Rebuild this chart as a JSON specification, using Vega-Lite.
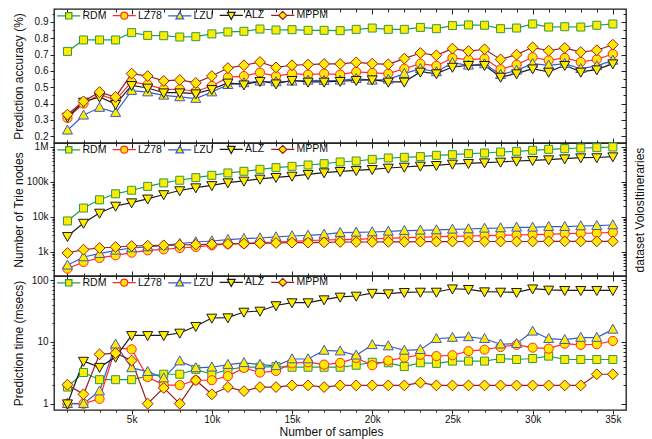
{
"$schema": "https://vega.github.io/schema/vega-lite/v6.json",
"padding": {"left": 11, "top": 7, "right": 8, "bottom": 2},
"spacing": 0,
"bounds": "flush",
"config": {
 "font": "Liberation Sans",
 "view": {"stroke": "#1a1a1a", "strokeWidth": 1.3},
 "axis": {"grid": false, "domain": false, "labelFont": "Liberation Sans", "labelFontSize": 10, "labelColor": "#111", "titleFont": "Liberation Sans", "titleFontSize": 12, "titleFontWeight": "normal", "titleColor": "#111", "tickColor": "#222", "tickWidth": 1},
 "concat": {"spacing": 0}
},
"resolve": {"scale": {"stroke": "independent", "shape": "independent"}, "legend": {"stroke": "independent"}},
"data": {"values": [
{"n":1000,"s":"RDM","a":0.72,"v":7700,"t":1.86},
{"n":2000,"s":"RDM","a":0.79,"v":18000,"t":3.2},
{"n":3000,"s":"RDM","a":0.79,"v":31000,"t":2.45},
{"n":4000,"s":"RDM","a":0.79,"v":46000,"t":2.45},
{"n":5000,"s":"RDM","a":0.835,"v":58000,"t":2.45},
{"n":6000,"s":"RDM","a":0.818,"v":75000,"t":2.8},
{"n":7000,"s":"RDM","a":0.816,"v":94000,"t":3.0},
{"n":8000,"s":"RDM","a":0.808,"v":112000,"t":3.0},
{"n":9000,"s":"RDM","a":0.81,"v":133000,"t":3.6},
{"n":10000,"s":"RDM","a":0.827,"v":155000,"t":3.0},
{"n":11000,"s":"RDM","a":0.839,"v":181000,"t":3.56},
{"n":12000,"s":"RDM","a":0.843,"v":202000,"t":3.9},
{"n":13000,"s":"RDM","a":0.857,"v":230000,"t":3.9},
{"n":14000,"s":"RDM","a":0.851,"v":257000,"t":4.0},
{"n":15000,"s":"RDM","a":0.853,"v":280000,"t":3.9},
{"n":16000,"s":"RDM","a":0.849,"v":306000,"t":3.9},
{"n":17000,"s":"RDM","a":0.849,"v":334000,"t":3.9},
{"n":18000,"s":"RDM","a":0.847,"v":373000,"t":3.9},
{"n":19000,"s":"RDM","a":0.855,"v":398000,"t":4.2},
{"n":20000,"s":"RDM","a":0.863,"v":444000,"t":4.7},
{"n":21000,"s":"RDM","a":0.855,"v":485000,"t":4.6},
{"n":22000,"s":"RDM","a":0.855,"v":507000,"t":4.0},
{"n":23000,"s":"RDM","a":0.867,"v":530000,"t":4.6},
{"n":24000,"s":"RDM","a":0.859,"v":578000,"t":4.5},
{"n":25000,"s":"RDM","a":0.878,"v":604000,"t":4.9},
{"n":26000,"s":"RDM","a":0.882,"v":646000,"t":4.9},
{"n":27000,"s":"RDM","a":0.88,"v":674000,"t":4.9},
{"n":28000,"s":"RDM","a":0.859,"v":719000,"t":5.4},
{"n":29000,"s":"RDM","a":0.863,"v":751000,"t":5.2},
{"n":30000,"s":"RDM","a":0.888,"v":803000,"t":5.4},
{"n":31000,"s":"RDM","a":0.869,"v":858000,"t":5.9},
{"n":32000,"s":"RDM","a":0.871,"v":896000,"t":5.2},
{"n":33000,"s":"RDM","a":0.869,"v":936000,"t":5.2},
{"n":34000,"s":"RDM","a":0.88,"v":957000,"t":5.2},
{"n":35000,"s":"RDM","a":0.888,"v":1000000,"t":5.2},
{"n":1000,"s":"LZ78","a":0.312,"v":334,"t":1.0},
{"n":2000,"s":"LZ78","a":0.4,"v":518,"t":1.0},
{"n":3000,"s":"LZ78","a":0.457,"v":675,"t":1.2},
{"n":4000,"s":"LZ78","a":0.422,"v":804,"t":8.0},
{"n":5000,"s":"LZ78","a":0.533,"v":957,"t":7.6},
{"n":6000,"s":"LZ78","a":0.516,"v":1117,"t":2.7},
{"n":7000,"s":"LZ78","a":0.488,"v":1191,"t":2.0},
{"n":8000,"s":"LZ78","a":0.488,"v":1300,"t":2.0},
{"n":9000,"s":"LZ78","a":0.476,"v":1390,"t":2.4},
{"n":10000,"s":"LZ78","a":0.508,"v":1549,"t":2.4},
{"n":11000,"s":"LZ78","a":0.561,"v":1694,"t":2.8},
{"n":12000,"s":"LZ78","a":0.569,"v":1770,"t":3.8},
{"n":13000,"s":"LZ78","a":0.59,"v":1849,"t":3.2},
{"n":14000,"s":"LZ78","a":0.569,"v":1932,"t":3.4},
{"n":15000,"s":"LZ78","a":0.584,"v":2018,"t":4.5},
{"n":16000,"s":"LZ78","a":0.578,"v":2109,"t":4.7},
{"n":17000,"s":"LZ78","a":0.584,"v":2203,"t":4.3},
{"n":18000,"s":"LZ78","a":0.578,"v":2249,"t":4.6},
{"n":19000,"s":"LZ78","a":0.594,"v":2301,"t":5.5},
{"n":20000,"s":"LZ78","a":0.588,"v":2404,"t":4.2},
{"n":21000,"s":"LZ78","a":0.584,"v":2455,"t":5.0},
{"n":22000,"s":"LZ78","a":0.614,"v":2570,"t":5.6},
{"n":23000,"s":"LZ78","a":0.645,"v":2624,"t":6.2},
{"n":24000,"s":"LZ78","a":0.631,"v":2742,"t":5.9},
{"n":25000,"s":"LZ78","a":0.68,"v":2805,"t":6.1},
{"n":26000,"s":"LZ78","a":0.669,"v":2864,"t":7.1},
{"n":27000,"s":"LZ78","a":0.676,"v":2931,"t":7.5},
{"n":28000,"s":"LZ78","a":0.61,"v":2992,"t":8.3},
{"n":29000,"s":"LZ78","a":0.639,"v":3062,"t":9.0},
{"n":30000,"s":"LZ78","a":0.684,"v":3126,"t":8.1},
{"n":31000,"s":"LZ78","a":0.665,"v":3199,"t":7.8},
{"n":32000,"s":"LZ78","a":0.68,"v":3342,"t":9.4},
{"n":33000,"s":"LZ78","a":0.655,"v":3412,"t":9.0},
{"n":34000,"s":"LZ78","a":0.671,"v":3491,"t":9.2},
{"n":35000,"s":"LZ78","a":0.704,"v":3648,"t":10.4},
{"n":1000,"s":"LZU","a":0.237,"v":416,"t":1.0},
{"n":2000,"s":"LZU","a":0.329,"v":720,"t":1.0},
{"n":3000,"s":"LZU","a":0.376,"v":895,"t":1.6},
{"n":4000,"s":"LZU","a":0.345,"v":1117,"t":9.2},
{"n":5000,"s":"LZU","a":0.48,"v":1300,"t":3.8},
{"n":6000,"s":"LZU","a":0.471,"v":1390,"t":3.3},
{"n":7000,"s":"LZU","a":0.451,"v":1549,"t":2.6},
{"n":8000,"s":"LZU","a":0.441,"v":1730,"t":4.9},
{"n":9000,"s":"LZU","a":0.431,"v":1932,"t":3.8},
{"n":10000,"s":"LZU","a":0.471,"v":2061,"t":3.9},
{"n":11000,"s":"LZU","a":0.516,"v":2249,"t":4.3},
{"n":12000,"s":"LZU","a":0.527,"v":2404,"t":4.6},
{"n":13000,"s":"LZU","a":0.537,"v":2512,"t":4.3},
{"n":14000,"s":"LZU","a":0.533,"v":2685,"t":4.1},
{"n":15000,"s":"LZU","a":0.537,"v":2864,"t":5.3},
{"n":16000,"s":"LZU","a":0.543,"v":2992,"t":5.3},
{"n":17000,"s":"LZU","a":0.541,"v":3199,"t":7.3},
{"n":18000,"s":"LZU","a":0.543,"v":3565,"t":7.1},
{"n":19000,"s":"LZU","a":0.553,"v":3648,"t":6.1},
{"n":20000,"s":"LZU","a":0.543,"v":3724,"t":9.0},
{"n":21000,"s":"LZU","a":0.549,"v":3890,"t":8.6},
{"n":22000,"s":"LZU","a":0.584,"v":4074,"t":7.3},
{"n":23000,"s":"LZU","a":0.614,"v":4159,"t":7.5},
{"n":24000,"s":"LZU","a":0.594,"v":4256,"t":11.3},
{"n":25000,"s":"LZU","a":0.651,"v":4446,"t":11.8},
{"n":26000,"s":"LZU","a":0.635,"v":4539,"t":12.1},
{"n":27000,"s":"LZU","a":0.643,"v":4742,"t":11.3},
{"n":28000,"s":"LZU","a":0.578,"v":4853,"t":9.2},
{"n":29000,"s":"LZU","a":0.604,"v":5070,"t":9.4},
{"n":30000,"s":"LZU","a":0.645,"v":5070,"t":14.9},
{"n":31000,"s":"LZU","a":0.635,"v":5297,"t":11.3},
{"n":32000,"s":"LZU","a":0.645,"v":5297,"t":10.9},
{"n":33000,"s":"LZU","a":0.614,"v":5534,"t":11.8},
{"n":34000,"s":"LZU","a":0.631,"v":5649,"t":11.8},
{"n":35000,"s":"LZU","a":0.665,"v":5902,"t":16.0},
{"n":1000,"s":"ALZ","a":0.318,"v":2800,"t":1.0},
{"n":2000,"s":"ALZ","a":0.41,"v":6700,"t":4.9},
{"n":3000,"s":"ALZ","a":0.441,"v":13000,"t":3.9},
{"n":4000,"s":"ALZ","a":0.396,"v":20600,"t":5.7},
{"n":5000,"s":"ALZ","a":0.512,"v":25700,"t":12.8},
{"n":6000,"s":"ALZ","a":0.496,"v":33000,"t":12.8},
{"n":7000,"s":"ALZ","a":0.467,"v":44000,"t":12.8},
{"n":8000,"s":"ALZ","a":0.467,"v":57000,"t":14.0},
{"n":9000,"s":"ALZ","a":0.461,"v":69000,"t":18.0},
{"n":10000,"s":"ALZ","a":0.488,"v":80000,"t":24.5},
{"n":11000,"s":"ALZ","a":0.527,"v":96000,"t":24.8},
{"n":12000,"s":"ALZ","a":0.516,"v":107000,"t":30.6},
{"n":13000,"s":"ALZ","a":0.537,"v":122000,"t":31.8},
{"n":14000,"s":"ALZ","a":0.522,"v":136000,"t":39.0},
{"n":15000,"s":"ALZ","a":0.543,"v":148000,"t":43.5},
{"n":16000,"s":"ALZ","a":0.533,"v":166000,"t":43.5},
{"n":17000,"s":"ALZ","a":0.533,"v":185000,"t":48.6},
{"n":18000,"s":"ALZ","a":0.537,"v":202000,"t":53.7},
{"n":19000,"s":"ALZ","a":0.543,"v":215000,"t":55.7},
{"n":20000,"s":"ALZ","a":0.547,"v":230000,"t":62.0},
{"n":21000,"s":"ALZ","a":0.533,"v":251000,"t":60.8},
{"n":22000,"s":"ALZ","a":0.533,"v":268000,"t":63.9},
{"n":23000,"s":"ALZ","a":0.594,"v":287000,"t":64.6},
{"n":24000,"s":"ALZ","a":0.584,"v":300000,"t":64.6},
{"n":25000,"s":"ALZ","a":0.624,"v":327000,"t":73.0},
{"n":26000,"s":"ALZ","a":0.635,"v":341000,"t":71.5},
{"n":27000,"s":"ALZ","a":0.635,"v":357000,"t":65.5},
{"n":28000,"s":"ALZ","a":0.563,"v":373000,"t":64.6},
{"n":29000,"s":"ALZ","a":0.584,"v":398000,"t":63.9},
{"n":30000,"s":"ALZ","a":0.614,"v":416000,"t":73.0},
{"n":31000,"s":"ALZ","a":0.594,"v":435000,"t":69.7},
{"n":32000,"s":"ALZ","a":0.635,"v":464000,"t":68.8},
{"n":33000,"s":"ALZ","a":0.594,"v":496000,"t":68.8},
{"n":34000,"s":"ALZ","a":0.608,"v":500000,"t":68.8},
{"n":35000,"s":"ALZ","a":0.645,"v":530000,"t":68.8},
{"n":1000,"s":"MPPM","a":0.333,"v":935,"t":2.03},
{"n":2000,"s":"MPPM","a":0.414,"v":1167,"t":1.42},
{"n":3000,"s":"MPPM","a":0.471,"v":1300,"t":6.3},
{"n":4000,"s":"MPPM","a":0.441,"v":1390,"t":6.6},
{"n":5000,"s":"MPPM","a":0.584,"v":1483,"t":5.0},
{"n":6000,"s":"MPPM","a":0.569,"v":1517,"t":1.0},
{"n":7000,"s":"MPPM","a":0.539,"v":1549,"t":1.8},
{"n":8000,"s":"MPPM","a":0.545,"v":1585,"t":1.0},
{"n":9000,"s":"MPPM","a":0.527,"v":1622,"t":2.4},
{"n":10000,"s":"MPPM","a":0.569,"v":1656,"t":1.42},
{"n":11000,"s":"MPPM","a":0.618,"v":1694,"t":1.86},
{"n":12000,"s":"MPPM","a":0.635,"v":1730,"t":1.6},
{"n":13000,"s":"MPPM","a":0.655,"v":1770,"t":1.86},
{"n":14000,"s":"MPPM","a":0.622,"v":1807,"t":1.86},
{"n":15000,"s":"MPPM","a":0.635,"v":1849,"t":1.98},
{"n":16000,"s":"MPPM","a":0.639,"v":1849,"t":1.98},
{"n":17000,"s":"MPPM","a":0.643,"v":1888,"t":1.86},
{"n":18000,"s":"MPPM","a":0.643,"v":1932,"t":1.98},
{"n":19000,"s":"MPPM","a":0.653,"v":1932,"t":1.98},
{"n":20000,"s":"MPPM","a":0.645,"v":1932,"t":1.98},
{"n":21000,"s":"MPPM","a":0.641,"v":1950,"t":1.98},
{"n":22000,"s":"MPPM","a":0.676,"v":1950,"t":1.98},
{"n":23000,"s":"MPPM","a":0.71,"v":1972,"t":2.19},
{"n":24000,"s":"MPPM","a":0.696,"v":1972,"t":1.98},
{"n":25000,"s":"MPPM","a":0.737,"v":1972,"t":1.98},
{"n":26000,"s":"MPPM","a":0.722,"v":1995,"t":1.98},
{"n":27000,"s":"MPPM","a":0.733,"v":1995,"t":1.98},
{"n":28000,"s":"MPPM","a":0.671,"v":1995,"t":1.98},
{"n":29000,"s":"MPPM","a":0.7,"v":1995,"t":1.98},
{"n":30000,"s":"MPPM","a":0.745,"v":1995,"t":1.98},
{"n":31000,"s":"MPPM","a":0.724,"v":2018,"t":1.98},
{"n":32000,"s":"MPPM","a":0.741,"v":2018,"t":1.98},
{"n":33000,"s":"MPPM","a":0.716,"v":2018,"t":1.98},
{"n":34000,"s":"MPPM","a":0.727,"v":2018,"t":3.0},
{"n":35000,"s":"MPPM","a":0.761,"v":2018,"t":3.0}
]},
"vconcat": [
{
 "width": 572, "height": 134,
 "resolve": {"axis": {"x": "independent", "y": "independent"}},
 "layer": [
  {"mark": {"type": "line", "strokeWidth": 1.2},
   "encoding": {
    "x": {"field": "n", "type": "quantitative", "scale": {"domain": [160, 35820], "nice": false, "zero": false},
          "axis": {"orient": "bottom", "values": [5000,10000,15000,20000,25000,30000,35000], "tickSize": -5, "labels": false, "title": null}},
    "y": {"field": "a", "type": "quantitative", "scale": {"domain": [0.159, 0.9796], "nice": false, "zero": false},
          "axis": {"orient": "left", "values": [0.2,0.3,0.4,0.5,0.6,0.7,0.8,0.9], "format": ".1f", "tickSize": 4, "labelPadding": 2, "title": "Prediction accuracy (%)", "titleX": -36, "titleBaseline": "middle"}},
    "stroke": {"field": "s", "type": "nominal", "scale": {"domain": ["RDM","LZ78","LZU","ALZ","MPPM"], "range": ["#2b9a48","#ff2b2b","#3a5cc8","#1a1a1a","#9a1e1e"]},
     "legend": {"orient": "none", "legendX": 5.5, "legendY": 1, "direction": "horizontal", "title": null, "padding": 0, "symbolSize": 49, "symbolStrokeWidth": 1.2, "symbolOffset": 4, "labelOffset": 8.5, "columnPadding": 3.5, "labelFontSize": 10.5, "labelColor": "#111", "labelFont": "Liberation Sans",
      "encode": {"symbols": {"update": {"shape": {"signal": "datum.value === 'RDM' ? 'M-3.3,0H-0.9M0.9,0H3.3M-0.9,-0.9H0.9V0.9H-0.9Z' : datum.value === 'LZ78' ? 'M-3.3,0H-1M1,0H3.3M-1,0A1,1,0,1,1,1,0A1,1,0,1,1,-1,0Z' : datum.value === 'LZU' ? 'M-3.3,0H-0.63M0.63,0H3.3M0,-1.15L1.1,0.85H-1.1Z' : datum.value === 'ALZ' ? 'M-3.3,0H-0.63M0.63,0H3.3M0,1.15L1.1,-0.85H-1.1Z' : 'M-3.3,0H-1.15M1.15,0H3.3M0,-1.15L1.15,0L0,1.15L-1.15,0Z'"}, "fill": {"value": "#ffea00"}, "fillOpacity": {"value": 1}}}}}}
   }},
  {"mark": {"type": "point", "filled": true, "fill": "#ffea00", "size": 64, "strokeWidth": 1, "opacity": 1},
   "encoding": {
    "x": {"field": "n", "type": "quantitative", "axis": {"orient": "top", "values": [5000,10000,15000,20000,25000,30000,35000], "tickSize": -5, "labels": false, "title": null}},
    "y": {"field": "a", "type": "quantitative", "axis": {"orient": "right", "values": [0.2,0.3,0.4,0.5,0.6,0.7,0.8,0.9], "tickSize": -5, "labels": false, "title": null}},
    "stroke": {"field": "s", "type": "nominal", "legend": null},
    "shape": {"field": "s", "type": "nominal", "scale": {"domain": ["MPPM","ALZ","LZU","LZ78","RDM"], "range": ["M0,-1.35L1.35,0L0,1.35L-1.35,0Z","M0,1.3L1.25,-0.95H-1.25Z","M0,-1.3L1.25,0.95H-1.25Z","M-1.15,0A1.15,1.15,0,1,1,1.15,0A1.15,1.15,0,1,1,-1.15,0Z","M-1,-1H1V1H-1Z"]}, "legend": null}
   }},
  {"mark": {"type": "point", "opacity": 0},
   "encoding": {
    "x": {"field": "n", "type": "quantitative", "axis": {"orient": "bottom", "values": [1000,2000,3000,4000,6000,7000,8000,9000,11000,12000,13000,14000,16000,17000,18000,19000,21000,22000,23000,24000,26000,27000,28000,29000,31000,32000,33000,34000], "tickSize": -3, "labels": false, "title": null}},
    "y": {"field": "a", "type": "quantitative", "axis": {"orient": "left", "values": [0.25,0.35,0.45,0.55,0.65,0.75,0.85,0.95], "tickSize": 2, "labels": false, "title": null}}
   }},
  {"mark": {"type": "point", "opacity": 0},
   "encoding": {
    "x": {"field": "n", "type": "quantitative", "axis": {"orient": "top", "values": [1000,2000,3000,4000,6000,7000,8000,9000,11000,12000,13000,14000,16000,17000,18000,19000,21000,22000,23000,24000,26000,27000,28000,29000,31000,32000,33000,34000], "tickSize": -3, "labels": false, "title": null}},
    "y": {"field": "a", "type": "quantitative", "axis": {"orient": "right", "values": [0.25,0.35,0.45,0.55,0.65,0.75,0.85,0.95], "tickSize": -3, "labels": false, "title": null}}
   }}
 ]
},
{
 "width": 572, "height": 133,
 "resolve": {"axis": {"x": "independent", "y": "independent"}},
 "layer": [
  {"mark": {"type": "line", "strokeWidth": 1.2},
   "encoding": {
    "x": {"field": "n", "type": "quantitative", "scale": {"domain": [160, 35820], "nice": false, "zero": false},
          "axis": {"orient": "bottom", "values": [5000,10000,15000,20000,25000,30000,35000], "tickSize": -5, "labels": false, "title": null}},
    "y": {"field": "v", "type": "quantitative", "scale": {"type": "log", "domain": [206, 1300000], "nice": false},
          "axis": {"orient": "left", "values": [1000,10000,100000,1000000], "labelExpr": "datum.value >= 1000000 ? '1M' : (datum.value / 1000) + 'k'", "tickSize": 4, "labelPadding": 2, "title": "Number of Trie nodes", "titleX": -36, "titleBaseline": "middle"}},
    "stroke": {"field": "s", "type": "nominal", "scale": {"domain": ["RDM","LZ78","LZU","ALZ","MPPM"], "range": ["#2b9a48","#ff2b2b","#3a5cc8","#1a1a1a","#9a1e1e"]},
     "legend": {"orient": "none", "legendX": 5.5, "legendY": 1, "direction": "horizontal", "title": null, "padding": 0, "symbolSize": 49, "symbolStrokeWidth": 1.2, "symbolOffset": 4, "labelOffset": 8.5, "columnPadding": 3.5, "labelFontSize": 10.5, "labelColor": "#111", "labelFont": "Liberation Sans",
      "encode": {"symbols": {"update": {"shape": {"signal": "datum.value === 'RDM' ? 'M-3.3,0H-0.9M0.9,0H3.3M-0.9,-0.9H0.9V0.9H-0.9Z' : datum.value === 'LZ78' ? 'M-3.3,0H-1M1,0H3.3M-1,0A1,1,0,1,1,1,0A1,1,0,1,1,-1,0Z' : datum.value === 'LZU' ? 'M-3.3,0H-0.63M0.63,0H3.3M0,-1.15L1.1,0.85H-1.1Z' : datum.value === 'ALZ' ? 'M-3.3,0H-0.63M0.63,0H3.3M0,1.15L1.1,-0.85H-1.1Z' : 'M-3.3,0H-1.15M1.15,0H3.3M0,-1.15L1.15,0L0,1.15L-1.15,0Z'"}, "fill": {"value": "#ffea00"}, "fillOpacity": {"value": 1}}}}}}
   }},
  {"mark": {"type": "point", "filled": true, "fill": "#ffea00", "size": 64, "strokeWidth": 1, "opacity": 1},
   "encoding": {
    "x": {"field": "n", "type": "quantitative", "axis": {"orient": "top", "values": [5000,10000,15000,20000,25000,30000,35000], "tickSize": -5, "labels": false, "title": null}},
    "y": {"field": "v", "type": "quantitative", "axis": {"orient": "right", "values": [1000,10000,100000,1000000], "tickSize": -5, "labels": false, "title": "dataset VolosItineraries", "titleAngle": 270, "titleX": 13, "titleBaseline": "middle", "titleAlign": "center"}},
    "stroke": {"field": "s", "type": "nominal", "legend": null},
    "shape": {"field": "s", "type": "nominal", "scale": {"domain": ["MPPM","ALZ","LZU","LZ78","RDM"], "range": ["M0,-1.35L1.35,0L0,1.35L-1.35,0Z","M0,1.3L1.25,-0.95H-1.25Z","M0,-1.3L1.25,0.95H-1.25Z","M-1.15,0A1.15,1.15,0,1,1,1.15,0A1.15,1.15,0,1,1,-1.15,0Z","M-1,-1H1V1H-1Z"]}, "legend": null}
   }},
  {"mark": {"type": "point", "opacity": 0},
   "encoding": {
    "x": {"field": "n", "type": "quantitative", "axis": {"orient": "bottom", "values": [1000,2000,3000,4000,6000,7000,8000,9000,11000,12000,13000,14000,16000,17000,18000,19000,21000,22000,23000,24000,26000,27000,28000,29000,31000,32000,33000,34000], "tickSize": -3, "labels": false, "title": null}},
    "y": {"field": "v", "type": "quantitative", "axis": {"orient": "left", "values": [300,400,500,600,700,800,900,2000,3000,4000,5000,6000,7000,8000,9000,20000,30000,40000,50000,60000,70000,80000,90000,200000,300000,400000,500000,600000,700000,800000,900000], "tickSize": 2, "labels": false, "title": null}}
   }},
  {"mark": {"type": "point", "opacity": 0},
   "encoding": {
    "x": {"field": "n", "type": "quantitative", "axis": {"orient": "top", "values": [1000,2000,3000,4000,6000,7000,8000,9000,11000,12000,13000,14000,16000,17000,18000,19000,21000,22000,23000,24000,26000,27000,28000,29000,31000,32000,33000,34000], "tickSize": -3, "labels": false, "title": null}},
    "y": {"field": "v", "type": "quantitative", "axis": {"orient": "right", "values": [300,400,500,600,700,800,900,2000,3000,4000,5000,6000,7000,8000,9000,20000,30000,40000,50000,60000,70000,80000,90000,200000,300000,400000,500000,600000,700000,800000,900000], "tickSize": -3, "labels": false, "title": null}}
   }}
 ]
},
{
 "width": 572, "height": 134,
 "resolve": {"axis": {"x": "independent", "y": "independent"}},
 "layer": [
  {"mark": {"type": "line", "strokeWidth": 1.2},
   "encoding": {
    "x": {"field": "n", "type": "quantitative", "scale": {"domain": [160, 35820], "nice": false, "zero": false},
          "axis": {"orient": "bottom", "values": [5000,10000,15000,20000,25000,30000,35000], "tickSize": 4, "labelPadding": 0, "labelExpr": "(datum.value / 1000) + 'k'", "title": "Number of samples", "titleX": 277, "titleY": 21.5, "titleBaseline": "middle", "titleAlign": "center"}},
    "y": {"field": "t", "type": "quantitative", "scale": {"type": "log", "domain": [0.79, 117.4], "nice": false},
          "axis": {"orient": "left", "values": [1,10,100], "labelExpr": "'' + datum.value", "tickSize": 4, "labelPadding": 2, "title": "Prediction time (msecs)", "titleX": -36, "titleBaseline": "middle"}},
    "stroke": {"field": "s", "type": "nominal", "scale": {"domain": ["RDM","LZ78","LZU","ALZ","MPPM"], "range": ["#2b9a48","#ff2b2b","#3a5cc8","#1a1a1a","#9a1e1e"]},
     "legend": {"orient": "none", "legendX": 5.5, "legendY": 1, "direction": "horizontal", "title": null, "padding": 0, "symbolSize": 49, "symbolStrokeWidth": 1.2, "symbolOffset": 4, "labelOffset": 8.5, "columnPadding": 3.5, "labelFontSize": 10.5, "labelColor": "#111", "labelFont": "Liberation Sans",
      "encode": {"symbols": {"update": {"shape": {"signal": "datum.value === 'RDM' ? 'M-3.3,0H-0.9M0.9,0H3.3M-0.9,-0.9H0.9V0.9H-0.9Z' : datum.value === 'LZ78' ? 'M-3.3,0H-1M1,0H3.3M-1,0A1,1,0,1,1,1,0A1,1,0,1,1,-1,0Z' : datum.value === 'LZU' ? 'M-3.3,0H-0.63M0.63,0H3.3M0,-1.15L1.1,0.85H-1.1Z' : datum.value === 'ALZ' ? 'M-3.3,0H-0.63M0.63,0H3.3M0,1.15L1.1,-0.85H-1.1Z' : 'M-3.3,0H-1.15M1.15,0H3.3M0,-1.15L1.15,0L0,1.15L-1.15,0Z'"}, "fill": {"value": "#ffea00"}, "fillOpacity": {"value": 1}}}}}}
   }},
  {"mark": {"type": "point", "filled": true, "fill": "#ffea00", "size": 64, "strokeWidth": 1, "opacity": 1},
   "encoding": {
    "x": {"field": "n", "type": "quantitative", "axis": {"orient": "top", "values": [5000,10000,15000,20000,25000,30000,35000], "tickSize": -5, "labels": false, "title": null}},
    "y": {"field": "t", "type": "quantitative", "axis": {"orient": "right", "values": [1,10,100], "tickSize": -5, "labels": false, "title": null}},
    "stroke": {"field": "s", "type": "nominal", "legend": null},
    "shape": {"field": "s", "type": "nominal", "scale": {"domain": ["MPPM","ALZ","LZU","LZ78","RDM"], "range": ["M0,-1.35L1.35,0L0,1.35L-1.35,0Z","M0,1.3L1.25,-0.95H-1.25Z","M0,-1.3L1.25,0.95H-1.25Z","M-1.15,0A1.15,1.15,0,1,1,1.15,0A1.15,1.15,0,1,1,-1.15,0Z","M-1,-1H1V1H-1Z"]}, "legend": null}
   }},
  {"mark": {"type": "point", "opacity": 0},
   "encoding": {
    "x": {"field": "n", "type": "quantitative", "axis": {"orient": "bottom", "values": [1000,2000,3000,4000,6000,7000,8000,9000,11000,12000,13000,14000,16000,17000,18000,19000,21000,22000,23000,24000,26000,27000,28000,29000,31000,32000,33000,34000], "tickSize": 2, "labels": false, "title": null}},
    "y": {"field": "t", "type": "quantitative", "axis": {"orient": "left", "values": [2,3,4,5,6,7,8,9,20,30,40,50,60,70,80,90], "tickSize": 2, "labels": false, "title": null}}
   }},
  {"mark": {"type": "point", "opacity": 0},
   "encoding": {
    "x": {"field": "n", "type": "quantitative", "axis": {"orient": "top", "values": [1000,2000,3000,4000,6000,7000,8000,9000,11000,12000,13000,14000,16000,17000,18000,19000,21000,22000,23000,24000,26000,27000,28000,29000,31000,32000,33000,34000], "tickSize": -3, "labels": false, "title": null}},
    "y": {"field": "t", "type": "quantitative", "axis": {"orient": "right", "values": [2,3,4,5,6,7,8,9,20,30,40,50,60,70,80,90], "tickSize": -3, "labels": false, "title": null}}
   }}
 ]
}
]
}
